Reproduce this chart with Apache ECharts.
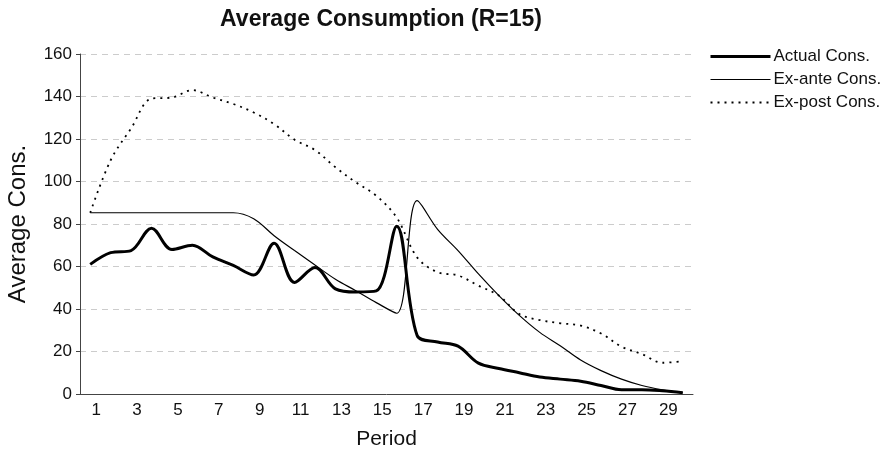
<!DOCTYPE html>
<html>
<head>
<meta charset="utf-8">
<script src="https://cdn.jsdelivr.net/npm/echarts@6/dist/echarts.min.js"></script>
<style>
  html, body { margin: 0; padding: 0; background: #fff; }
  #chart { width: 893px; height: 455px; }
</style>
</head>
<body>
<div id="chart"></div>
<script>
// periods 1..30
var periods = ['1','2','3','4','5','6','7','8','9','10','11','12','13','14','15',
               '16','17','18','19','20','21','22','23','24','25','26','27','28','29','30'];
var actualCons = [61, 66.5, 67.5, 78, 68, 70, 64.5, 60.5, 56, 71, 52.5, 59.5, 49.5, 48, 48.5,
                  79, 27.5, 24.5, 22.5, 14.5, 12, 10, 8, 7, 6, 4, 2, 2, 1.5, 0.6];
var exAnteCons = [85.3, 85.3, 85.3, 85.3, 85.3, 85.3, 85.3, 85.3, 82.5, 74.5, 67.5, 60.7, 54, 48.6, 43,
                  38, 91, 77.5, 67.5, 56.5, 46.3, 37, 29, 22.7, 16, 11, 7, 4, 2, 0.6];
var exPostCons = [85.3, 110, 125, 139, 139.5, 143, 139.5, 136.5, 132.5, 127, 119.7, 114.8, 106.7, 99.6, 93.3,
                  83, 64.3, 57.3, 55.8, 51, 46.3, 37.6, 34.8, 33.3, 32.2, 28.5, 22.3, 18.8, 14.7, 15.4];
var yTicks = [0, 20, 40, 60, 80, 100, 120, 140, 160];

var chart = echarts.init(document.getElementById('chart'));
var font = 'Liberation Sans, Arial, sans-serif';

chart.setOption({
  animation: false,
  textStyle: { fontFamily: font },
  title: {
    text: 'Average Consumption (R=15)',
    left: 376, top: 3, textAlign: 'center',
    textStyle: { fontSize: 23, fontWeight: 'bold', color: '#111', fontFamily: font }
  },
  legend: {
    orient: 'vertical',
    left: 704, top: 43,
    itemWidth: 60, itemHeight: 8, itemGap: 6,
    itemStyle: { opacity: 0 },
    textStyle: { fontSize: 17, color: '#111', fontFamily: font, padding: [0, 0, 0, -2] },
    data: [
      { name: 'Actual Cons.', lineStyle: { width: 3 } },
      { name: 'Ex-ante Cons.', lineStyle: { width: 1.2 } },
      { name: 'Ex-post Cons.', lineStyle: { width: 2, type: [2, 5] } }
    ]
  },
  grid: { left: 80, right: 200, top: 54, bottom: 61, outerBoundsMode: 'none' },
  xAxis: {
    type: 'category',
    data: periods,
    boundaryGap: true,
    name: 'Period', nameLocation: 'middle', nameGap: 35,
    nameTextStyle: { fontSize: 21, color: '#111', fontFamily: font },
    axisLine: { lineStyle: { color: '#444', width: 1 } },
    axisTick: { interval: 1, length: 6, lineStyle: { color: '#444' } },
    axisLabel: { interval: 1, fontSize: 17, color: '#111', margin: 8, padding: [0, 0, 0, 12] },
    splitLine: { show: false }
  },
  yAxis: {
    type: 'value',
    min: yTicks[0], max: yTicks[yTicks.length - 1], interval: 20,
    name: 'Average Cons.', nameLocation: 'middle', nameGap: 50, nameRotate: 90,
    nameTextStyle: { fontSize: 24, color: '#111', fontFamily: font },
    axisLine: { show: true, lineStyle: { color: '#444', width: 1 } },
    axisTick: { show: true, length: 4, lineStyle: { color: '#444' } },
    axisLabel: { fontSize: 17, color: '#111', margin: 8 },
    splitLine: { show: true, lineStyle: { color: '#ccc', type: [6, 5], width: 1 } }
  },
  series: [
    {
      name: 'Actual Cons.', type: 'line', data: actualCons,
      smooth: 0.35, symbol: 'none',
      lineStyle: { color: '#000', width: 3 },
      itemStyle: { color: '#000' }
    },
    {
      name: 'Ex-ante Cons.', type: 'line', data: exAnteCons,
      smooth: 0.35, symbol: 'none',
      lineStyle: { color: '#000', width: 1.2 },
      itemStyle: { color: '#000' }
    },
    {
      name: 'Ex-post Cons.', type: 'line', data: exPostCons,
      smooth: 0.35, symbol: 'none',
      lineStyle: { color: '#000', width: 1.8, type: [2, 5] },
      itemStyle: { color: '#000' }
    }
  ]
});
</script>
</body>
</html>
